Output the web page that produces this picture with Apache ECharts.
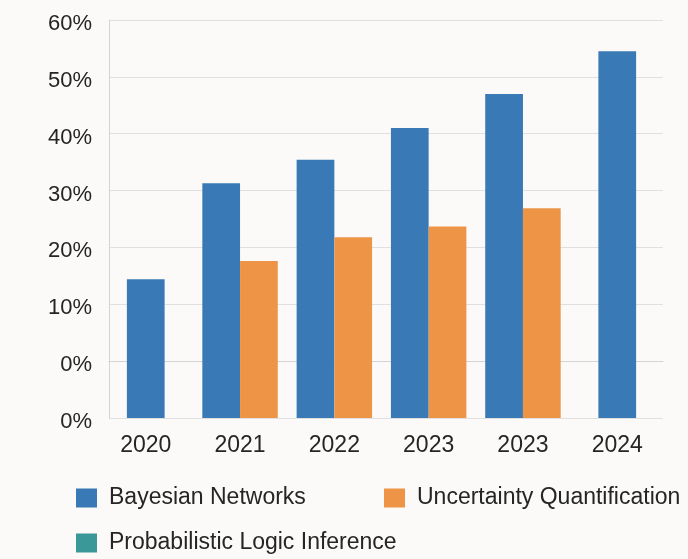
<!DOCTYPE html>
<html>
<head>
<meta charset="utf-8">
<title>Research trends</title>
<script src="https://cdn.jsdelivr.net/npm/echarts@6/dist/echarts.min.js"></script>
<style>
  html, body { margin: 0; padding: 0; background: #fbfaf8; }
  #chart { width: 688px; height: 559px; }
</style>
</head>
<body>
<div id="chart"></div>
<script>
// Categories along the x axis
const categories = ['2020', '2021', '2022', '2023', '2023', '2024'];

// Share of work per topic (%), null where a topic has no bar
const bayesianNetworks = [14.4, 31.3, 35.4, 41.0, 47.0, 54.5];
const uncertaintyQuantification = [null, 17.6, 21.8, 23.7, 26.9, null];
const probabilisticLogicInference = [null, null, null, null, null, null];

// Tick labels for the value axis, bottom to top
const yTickLabels = ['0%', '0%', '10%', '20%', '30%', '40%', '50%', '60%'];
const Y_MIN = -10;
const Y_MAX = 60;
const Y_STEP = 10;

const seriesDefs = [
  { name: 'Bayesian Networks', values: bayesianNetworks, color: '#3879b6' },
  { name: 'Uncertainty Quantification', values: uncertaintyQuantification, color: '#ee9446' },
  { name: 'Probabilistic Logic Inference', values: probabilisticLogicInference, color: '#3b9899' }
];

const FONT = '"Liberation Sans", Arial, sans-serif';
const TEXT = '#252525';

// Bars in a category sit side by side and the group is centred on the category,
// so a lone bar is centred on its label.
function makeRenderItem(seriesIdx, color) {
  return function (params, api) {
    const idx = api.value(0);
    const val = api.value(1);
    const present = seriesDefs
      .map((s, k) => (s.values[idx] == null ? -1 : k))
      .filter(k => k >= 0);
    const n = present.length;
    const k = present.indexOf(seriesIdx);
    const band = api.size([1, 0])[0];
    const w = band * 0.4;
    const basePt = api.coord([idx, Y_MIN]);
    const topPt = api.coord([idx, val]);
    const x = basePt[0] - (n * w) / 2 + k * w;
    return {
      type: 'rect',
      shape: { x: x, y: topPt[1], width: w, height: basePt[1] - topPt[1] },
      style: { fill: color }
    };
  };
}

const chart = echarts.init(document.getElementById('chart'), null, { renderer: 'canvas' });

const legendText = { fontFamily: FONT, fontSize: 23, color: TEXT, lineHeight: 24, padding: [0, 0, 0, 7] };

function legendItem(name, left, top) {
  return {
    data: [name], left: left, top: top, padding: 0,
    icon: 'rect', itemWidth: 21, itemHeight: 19,
    textStyle: legendText, selectedMode: false
  };
}

chart.setOption({
  backgroundColor: '#fbfaf8',
  animation: false,
  legend: [
    legendItem(seriesDefs[0].name, 76, 486),
    legendItem(seriesDefs[1].name, 384, 486),
    legendItem(seriesDefs[2].name, 76, 531)
  ],
  grid: [
    // frame: value axis, grid lines and baseline
    { left: 109, right: 25, top: 20, bottom: 141, containLabel: false },
    // bars and category labels
    { left: 98.6, right: 23.6, top: 20, bottom: 141, containLabel: false }
  ],
  xAxis: [
    {
      gridIndex: 0, type: 'value', min: 0, max: 1,
      axisLine: { show: true, lineStyle: { color: '#d4d4d4', width: 1 } },
      axisTick: { show: false }, axisLabel: { show: false }, splitLine: { show: false }
    },
    {
      gridIndex: 1, type: 'category', data: categories, boundaryGap: true,
      axisLine: { show: false }, axisTick: { show: false }, splitLine: { show: false },
      axisLabel: { fontFamily: FONT, fontSize: 23, color: TEXT, margin: 16, interval: 0 }
    }
  ],
  yAxis: [
    {
      gridIndex: 0, type: 'value', min: Y_MIN, max: Y_MAX, interval: Y_STEP,
      axisLine: { show: true, lineStyle: { color: '#d4d4d4', width: 1 } },
      axisTick: { show: false },
      splitLine: { show: true, lineStyle: { color: '#e0e0e0', width: 1 } },
      axisLabel: {
        margin: 17,
        formatter: v => '{t|' + yTickLabels[Math.round((v - Y_MIN) / Y_STEP)] + '}',
        rich: {
          t: { fontFamily: FONT, fontSize: 22, color: TEXT, padding: [8, 0, 0, 0] }
        }
      }
    },
    {
      gridIndex: 1, type: 'value', min: Y_MIN, max: Y_MAX, interval: Y_STEP,
      show: false, splitLine: { show: false }
    }
  ],
  series: seriesDefs.map((s, k) => ({
    name: s.name,
    type: 'custom',
    xAxisIndex: 1,
    yAxisIndex: 1,
    itemStyle: { color: s.color },
    renderItem: makeRenderItem(k, s.color),
    encode: { x: 0, y: 1 },
    data: s.values
      .map((v, i) => (v == null ? null : [i, v]))
      .filter(d => d !== null)
  }))
});
</script>
</body>
</html>
